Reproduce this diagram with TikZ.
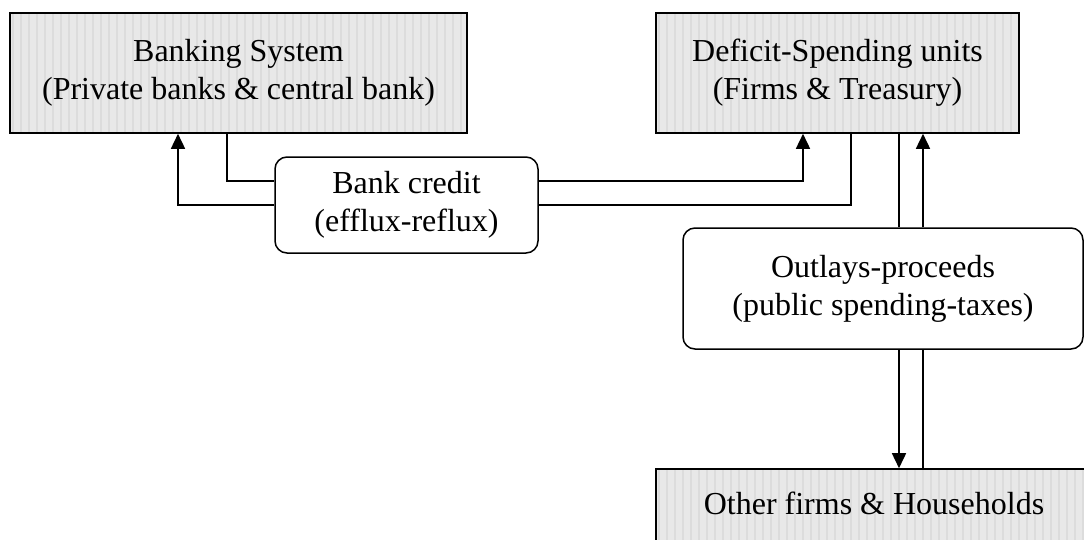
\documentclass[tikz,border=0pt]{standalone}
\usepackage{fontspec}
\setmainfont{Liberation Serif}
\usetikzlibrary{arrows.meta}
\definecolor{boxfill}{HTML}{E8E8E8}
\definecolor{stripecol}{HTML}{DCDCDC}
\tikzset{
  every node/.style={font=\fontsize{32}{38}\selectfont, align=center, inner sep=0pt},
  graybox/.style={draw=black, line width=1.6pt, fill=boxfill, rectangle,
    path picture={\foreach \i in {0,...,60}{\draw[stripecol, line width=1.2pt]
      ([xshift=\i*8pt+3pt]path picture bounding box.south west) --
      ([xshift=\i*8pt+3pt]path picture bounding box.north west);}}},
  roundbox/.style={draw=black, line width=1.5pt, fill=white, rectangle, rounded corners=12pt},
  conn/.style={line width=1.6pt},
  arr/.style={conn, -{Triangle[width=14pt,length=15pt]}}
}
\begin{document}
\begin{tikzpicture}[x=1pt,y=-1pt]
\useasboundingbox (0,0) rectangle (1084,539);
\clip (0,0) rectangle (1084,539);
\node[graybox, minimum width=457pt, minimum height=120pt] (bank1) at (238.5,73)
  {Banking System\\(Private banks \& central bank)};
\node[graybox, minimum width=363pt, minimum height=120pt] (dsu) at (837.5,73)
  {Deficit-Spending units\\(Firms \& Treasury)};
\node[roundbox, minimum width=263pt, minimum height=96pt] (credit) at (406.5,205)
  {Bank credit\\(efflux-reflux)};
\node[roundbox, minimum width=400pt, minimum height=121pt] (out) at (883,288.5)
  {Outlays-proceeds\\(public spending-taxes)};
\node[graybox, minimum width=436pt, minimum height=120pt, text depth=0pt] (hh) at (874,529)
  {};
\node (hhtext) at (874,503) {Other firms \& Households};
% efflux: banking system -> deficit units
\draw[conn] (bank1.south -| 227,0) |- (credit.west |- 0,181);
\draw[arr] (credit.east |- 0,181) -| (dsu.south -| 803,0);
% reflux: deficit units -> banking system
\draw[conn] (dsu.south -| 851,0) |- (credit.east);
\draw[arr] (credit.west) -| (bank1.south -| 178,0);
% outlays
\draw[conn] (dsu.south -| 899,0) -- (out.north -| 899,0);
\draw[arr] (out.south -| 899,0) -- (hh.north -| 899,0);
% proceeds
\draw[conn] (hh.north -| 923,0) -- (out.south -| 923,0);
\draw[arr] (out.north -| 923,0) -- (dsu.south -| 923,0);
\end{tikzpicture}
\end{document}
